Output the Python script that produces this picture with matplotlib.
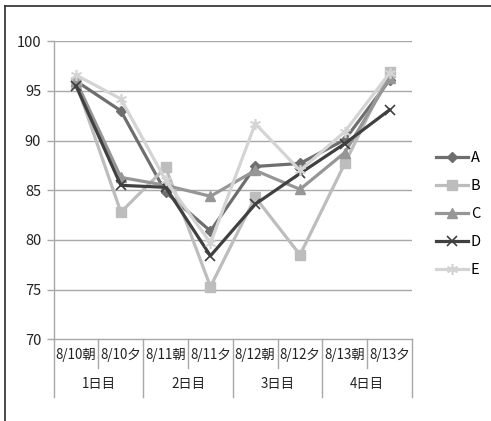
import matplotlib
matplotlib.use("Agg")
import matplotlib.pyplot as plt
from matplotlib.lines import Line2D
import matplotlib.transforms as mtransforms

plt.rcParams['font.family'] = ['Noto Sans CJK JP', 'DejaVu Sans']

# Data
categories = ["8/10朝", "8/10夕", "8/11朝", "8/11夕", "8/12朝", "8/12夕", "8/13朝", "8/13夕"]
day_labels = ["1日目", "2日目", "3日目", "4日目"]
series_names = ["A", "B", "C", "D", "E"]
values_a = [96.0, 93.0, 84.8, 80.9, 87.4, 87.7, 90.1, 96.1]
values_b = [95.8, 82.8, 87.3, 75.3, 84.3, 78.5, 87.7, 96.9]
values_c = [96.0, 86.3, 85.5, 84.4, 87.0, 85.1, 88.8, 96.3]
values_d = [95.5, 85.5, 85.3, 78.4, 83.6, 86.7, 89.7, 93.1]
values_e = [96.6, 94.2, 86.0, 79.7, 91.7, 87.0, 90.9, 96.8]
y_ticks = [70, 75, 80, 85, 90, 95, 100]

styles = [
    dict(color="#6e6e6e", marker="D", ms=5.5),
    dict(color="#bdbdbd", marker="s", ms=7.5),
    dict(color="#969696", marker="^", ms=7),
    dict(color="#404040", marker="x", ms=7, mew=1.2),
    dict(color="#d4d4d4", marker=(6, 2, 0), ms=8, mew=1.2),
]

W, H = 491, 421
fig = plt.figure(figsize=(W / 100, H / 100), dpi=100)
fig.patch.set_facecolor("white")

# Outer chart frame (top and left edges)
fig.add_artist(Line2D([5 / W, 5 / W], [0, 1 - 6 / H], transform=fig.transFigure,
                      color="#3a3a3a", lw=1.3))
fig.add_artist(Line2D([5 / W, 1], [1 - 6 / H, 1 - 6 / H], transform=fig.transFigure,
                      color="#3a3a3a", lw=1.3))

left, right = 53.7, 412.0
top, bottom = 41.3, 339.3
ax = fig.add_axes([left / W, 1 - bottom / H, (right - left) / W, (bottom - top) / H])

x = list(range(len(categories)))
for name, vals, st in zip(series_names, [values_a, values_b, values_c, values_d, values_e], styles):
    ax.plot(x, vals, color=st["color"], lw=2.3, marker=st["marker"], ms=st["ms"],
            mfc=st["color"], mec=st["color"], mew=st.get("mew", 1.0), label=name,
            solid_joinstyle="round", zorder=3)

ax.set_xlim(-0.5, len(categories) - 0.5)
ax.set_ylim(70, 100)
ax.set_yticks(y_ticks)
ax.set_yticklabels([str(v) for v in y_ticks], fontsize=10.5, color="#222222")
for v in y_ticks[1:]:
    ax.axhline(v, color="#a8a8a8", lw=1.0, zorder=1)
ax.tick_params(axis="y", length=5, width=1.0, color="#a8a8a8", pad=4)
ax.set_xticks([])
for s in ["top", "right"]:
    ax.spines[s].set_visible(False)
ax.spines["left"].set_color("#a8a8a8")
ax.spines["bottom"].set_color("#a8a8a8")
ax.spines["left"].set_linewidth(1.0)
ax.spines["bottom"].set_linewidth(1.0)

# Two-level category axis
trans = mtransforms.blended_transform_factory(ax.transData, fig.transFigure)
def fy(px):
    return 1 - px / H

for i in range(len(categories) + 1):
    xb = i - 0.5
    y_end = 397 if i % 2 == 0 else 368
    ax.add_artist(Line2D([xb, xb], [fy(339.3), fy(y_end)], transform=trans,
                         color="#a8a8a8", lw=1.0, clip_on=False))
for i, c in enumerate(categories):
    ax.text(i, fy(355), c, transform=trans, ha="center", va="center",
            fontsize=9.6, color="#222222")
for j, d in enumerate(day_labels):
    ax.text(2 * j + 0.5, fy(384), d, transform=trans, ha="center", va="center",
            fontsize=9.6, color="#222222")

ax.legend(loc="center left",
          bbox_to_anchor=((436 - left) / (right - left),
                          0.5 + (339.3 - 214 - (bottom - top) / 2) / (bottom - top)),
          frameon=False, fontsize=10.5, handlelength=2.2, handletextpad=0.2,
          labelspacing=0.95, borderaxespad=0, borderpad=0)

fig.savefig("out.png", dpi=100, facecolor="white")
